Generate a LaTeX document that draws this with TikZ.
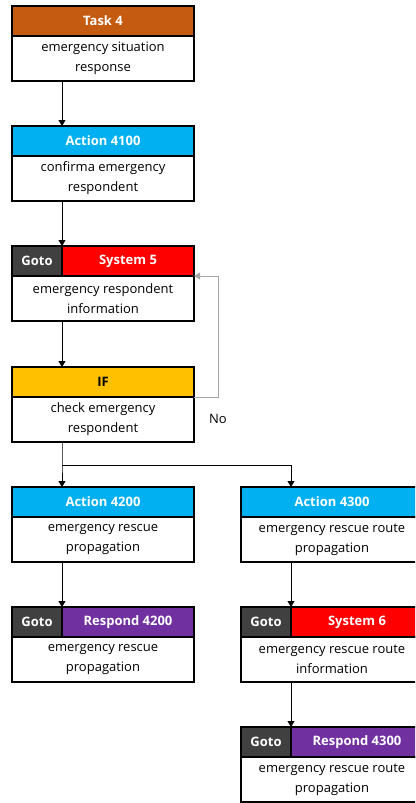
\documentclass[tikz,border=0pt]{standalone}
\usepackage{fontspec}
\setmainfont{Open Sans}
\usetikzlibrary{arrows.meta,positioning}
\definecolor{taskc}{HTML}{C55A11}
\definecolor{actc}{HTML}{00B0F0}
\definecolor{sysc}{HTML}{FF0000}
\definecolor{gotoc}{HTML}{404040}
\definecolor{ifc}{HTML}{FFC000}
\definecolor{respc}{HTML}{7030A0}
\tikzset{%
  head/.style  = {shape=rectangle, draw, line width=1.2pt, outer sep=0pt,%
                  inner sep=0pt, minimum height=30pt, minimum width=182pt,%
                  text=white, font=\bfseries\fontsize{13}{16}\selectfont},%
  gotobox/.style = {head, fill=gotoc, minimum width=50pt},%
  tagbox/.style  = {head, minimum width=132pt},%
  body/.style  = {shape=rectangle, draw, line width=1.2pt, outer sep=0pt,%
                  inner sep=0pt, minimum height=45pt, minimum width=182pt,%
                  align=center, font=\fontsize{13}{20}\selectfont},%
  arr/.style   = {line width=0.9pt, -{Triangle[width=7pt,length=6pt]}}%
}
\begin{document}
\begin{tikzpicture}[x=1pt,y=-1pt]
	\useasboundingbox (0,0) rectangle (415,803);
	\clip (0,0) rectangle (415,803);
	% left column
	\node[head, fill=taskc, anchor=north west] (t4h) at (12,6) {Task 4};
	\node[body, below=0pt of t4h] (t4b) {emergency situation\\response};
	\node[head, fill=actc, anchor=north west] (a41h) at (12,126) {Action 4100};
	\node[body, below=0pt of a41h] (a41b) {confirma emergency\\respondent};
	\node[gotobox, anchor=north west] (s5g) at (12,246) {Goto};
	\node[tagbox, fill=sysc, right=0pt of s5g] (s5h) {System 5};
	\node[body, anchor=north west] (s5b) at (s5g.south west) {emergency respondent\\information};
	\node[head, fill=ifc, text=black, anchor=north west] (ifh) at (12,367) {IF};
	\node[body, below=0pt of ifh] (ifb) {check emergency\\respondent};
	\node[head, fill=actc, anchor=north west] (a42h) at (12,487) {Action 4200};
	\node[body, below=0pt of a42h] (a42b) {emergency rescue\\propagation};
	\node[gotobox, anchor=north west] (r42g) at (12,607) {Goto};
	\node[tagbox, fill=respc, right=0pt of r42g] (r42h) {Respond 4200};
	\node[body, anchor=north west] (r42b) at (r42g.south west) {emergency rescue\\propagation};
	% right column
	\node[head, fill=actc, anchor=north west] (a43h) at (241,487) {Action 4300};
	\node[body, below=0pt of a43h] (a43b) {emergency rescue route\\propagation};
	\node[gotobox, anchor=north west] (s6g) at (241,607) {Goto};
	\node[tagbox, fill=sysc, right=0pt of s6g] (s6h) {System 6};
	\node[body, anchor=north west] (s6b) at (s6g.south west) {emergency rescue route\\information};
	\node[gotobox, anchor=north west] (r43g) at (241,727) {Goto};
	\node[tagbox, fill=respc, right=0pt of r43g] (r43h) {Respond 4300};
	\node[body, anchor=north west] (r43b) at (r43g.south west) {emergency rescue route\\propagation};
	% connectors
	\draw[arr] ([xshift=50pt]t4b.south west) -- ([xshift=50pt]a41h.north west);
	\draw[arr] ([xshift=50pt]a41b.south west) -- (s5g.north east);
	\draw[arr] (s5b.south -| s5g.south east) -- ([xshift=50pt]ifh.north west);
	\coordinate (fork) at ([xshift=50pt,yshift=-23pt]ifb.south west);
	\draw[arr] ([xshift=50pt]ifb.south west) -- (fork) -- ([xshift=50pt]a42h.north west);
	\draw[arr] (fork) -| ([xshift=50pt]a43h.north west);
	\draw[arr] ([xshift=50pt]a42b.south west) -- (r42g.north east);
	\draw[arr] ([xshift=50pt]a43b.south west) -- (s6g.north east);
	\draw[arr] (s6b.south -| s6g.south east) -- (r43g.north east);
	% loop back
	\coordinate (back) at ([xshift=24pt]ifh.south east);
	\draw[arr, draw=gray!70, line width=1pt] (ifh.south east) -- (back) |- (s5h.south east);
	\node[font=\fontsize{13}{16}\selectfont] (no) at ([yshift=-22pt]back) {No};
\end{tikzpicture}
\end{document}
